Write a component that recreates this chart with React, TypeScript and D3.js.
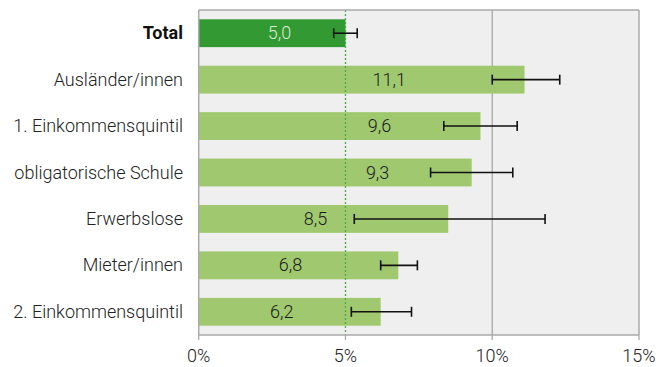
import React from "react";
import * as d3 from "d3";

const categories = [
  "Total",
  "Ausländer/innen",
  "1. Einkommensquintil",
  "obligatorische Schule",
  "Erwerbslose",
  "Mieter/innen",
  "2. Einkommensquintil",
];
const values = [5.0, 11.1, 9.6, 9.3, 8.5, 6.8, 6.2];
const lowerCI = [4.6, 10.0, 8.35, 7.9, 5.3, 6.2, 5.2];
const upperCI = [5.4, 12.3, 10.85, 10.7, 11.8, 7.45, 7.25];
const ticks = [0, 5, 10, 15];

const W = 672;
const H = 367;
const M = { left: 198.7, right: 33, top: 10, bottom: 32 };
const FONT = "Roboto, 'Noto Sans', sans-serif";
const FS = 18;

export default function App() {
  const x = d3.scaleLinear().domain([0, 15]).range([M.left, W - M.right]);
  const y = d3
    .scaleBand<string>()
    .domain(categories)
    .range([M.top, H - M.bottom])
    .paddingInner(0.4)
    .paddingOuter(0.2);
  const fmt = (v: number) => d3.format(".1f")(v).replace(".", ",");
  const labelX = (v: number, i: number) =>
    v >= 9 ? 4.03 + 0.222 * v : v / 2 + (i === 0 ? 0.25 : -0.27);
  const x0 = x(0);
  const x1 = x(15);
  const yTop = M.top;
  const yBot = H - M.bottom;

  return (
    <svg
      width={W}
      height={H}
      style={{ position: "absolute", left: 0, top: 0 }}
      fontFamily={FONT}
    >
      <rect x={x0} y={yTop} width={x1 - x0} height={yBot - yTop} fill="#efefef" />
      <line x1={x(10)} x2={x(10)} y1={yTop} y2={yBot} stroke="#a8a8a8" strokeWidth={1.3} />
      {categories.map((c, i) => {
        const yc = (y(c) as number) + y.bandwidth() / 2;
        const isTotal = i === 0;
        return (
          <g key={c}>
            <rect
              x={x0}
              y={y(c)}
              width={x(values[i]) - x0}
              height={y.bandwidth()}
              fill={isTotal ? "#339933" : "#a0c96f"}
            />
            <text
              x={183}
              y={yc + 6}
              textAnchor="end"
              fontSize={FS}
              fontWeight={isTotal ? 700 : 300}
              fill={isTotal ? "#111" : "#222"}
            >
              {c}
            </text>
            <text
              x={x(labelX(values[i], i))}
              y={yc + 6}
              textAnchor="middle"
              fontSize={FS}
              fontWeight={300}
              fill={isTotal ? "#d8ecd0" : "#1a1a1a"}
            >
              {fmt(values[i])}
            </text>
          </g>
        );
      })}
      <line
        x1={x(5)}
        x2={x(5)}
        y1={yTop}
        y2={yBot}
        stroke="#4aa84a"
        strokeWidth={1.3}
        strokeDasharray="2,2"
      />
      {categories.map((c, i) => {
        const yc = (y(c) as number) + y.bandwidth() / 2;
        return (
          <g key={"e" + c} stroke="#111" strokeWidth={1.6}>
            <line x1={x(lowerCI[i])} x2={x(upperCI[i])} y1={yc} y2={yc} />
            <line x1={x(lowerCI[i])} x2={x(lowerCI[i])} y1={yc - 5} y2={yc + 5} />
            <line x1={x(upperCI[i])} x2={x(upperCI[i])} y1={yc - 5} y2={yc + 5} />
          </g>
        );
      })}
      <line x1={x0} x2={x1} y1={yTop} y2={yTop} stroke="#aaa" strokeWidth={1.5} />
      <line x1={x1} x2={x1} y1={yTop} y2={yBot} stroke="#aaa" strokeWidth={1.5} />
      <line x1={x0} x2={x0} y1={yTop} y2={yBot} stroke="#aaa" strokeWidth={1.5} />
      <line x1={x0} x2={x1} y1={yBot} y2={yBot} stroke="#aaa" strokeWidth={1.5} />
      {ticks.map((t) => (
        <g key={t}>
          <line x1={x(t)} x2={x(t)} y1={yBot} y2={yBot + 5} stroke="#aaa" strokeWidth={1.3} />
          <text x={x(t)} y={362} textAnchor="middle" fontSize={FS} fontWeight={300} fill="#222">
            {t + "%"}
          </text>
        </g>
      ))}
    </svg>
  );
}
